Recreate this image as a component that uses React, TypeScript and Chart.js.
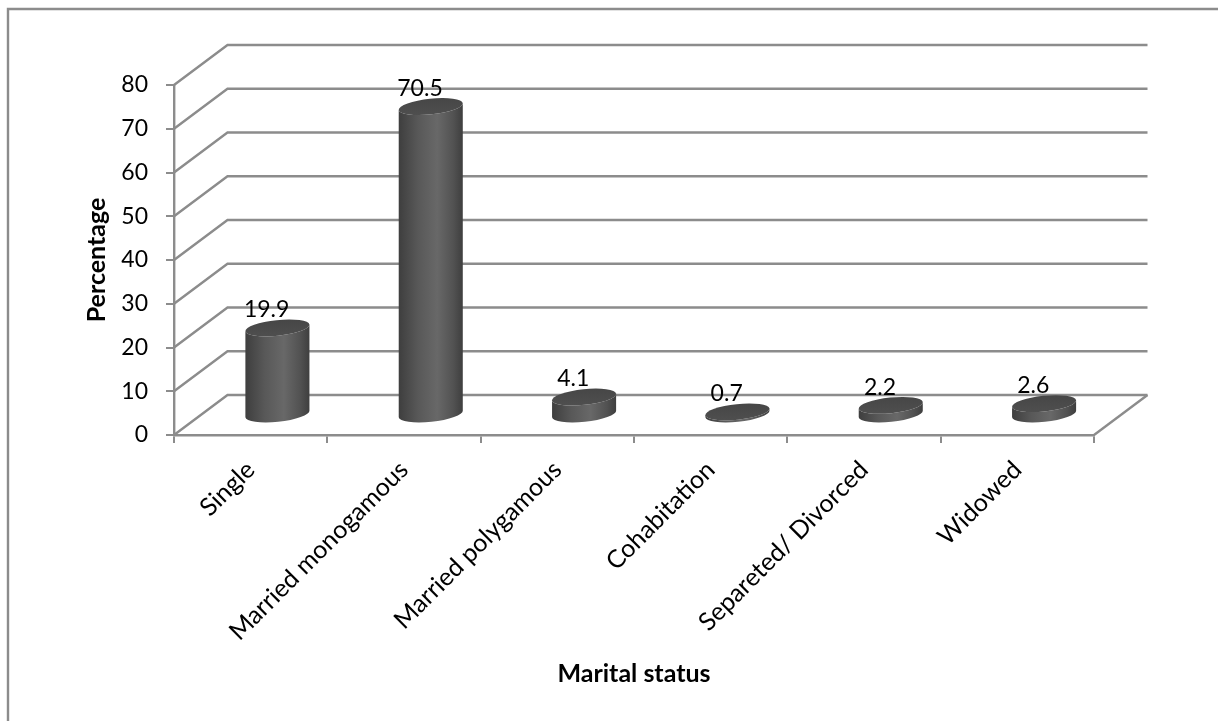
import { useEffect, useRef } from "react";
import { Chart, registerables, BarController, BarElement } from "chart.js";

const categories = [
  "Single",
  "Married monogamous",
  "Married polygamous",
  "Cohabitation",
  "Separeted/ Divorced",
  "Widowed",
];
const percentages = [19.9, 70.5, 4.1, 0.7, 2.2, 2.6];

const LINE = "#8c8c8c";
const FONT = "Lato, Carlito, Calibri, sans-serif";

// Oblique projection of the chart's depth axis, in pixels.
const DEPTH_X = 53.5;
const DEPTH_Y = 40;
const CAP_TILT = (-6 * Math.PI) / 180;
const CAP_RY = 7.8;

class CylinderBar extends BarElement {
  static id = "cylinderBar";
  static defaults = BarElement.defaults;

  draw(ctx: CanvasRenderingContext2D) {
    const { x, y, base, width } = this as any;
    const rx = width / 2;
    const cx = x + DEPTH_X / 2;
    const topY = y - DEPTH_Y / 2;
    const baseY = base - DEPTH_Y / 2;
    const sin = Math.sin(CAP_TILT) * rx;

    const side = ctx.createLinearGradient(cx - rx, 0, cx + rx, 0);
    side.addColorStop(0, "#3e3e3e");
    side.addColorStop(0.3, "#585858");
    side.addColorStop(0.6, "#686868");
    side.addColorStop(0.85, "#525252");
    side.addColorStop(1, "#3e3e3e");

    ctx.save();
    ctx.fillStyle = side;
    ctx.beginPath();
    ctx.ellipse(cx, baseY, rx, CAP_RY, CAP_TILT, 0, Math.PI);
    ctx.lineTo(cx - rx * Math.cos(CAP_TILT), topY - sin);
    ctx.ellipse(cx, topY, rx, CAP_RY, CAP_TILT, Math.PI, 0, true);
    ctx.closePath();
    ctx.fill();

    // The cap is shaded slightly lighter towards its front rim.
    const cap = ctx.createLinearGradient(0, topY - CAP_RY - 3, 0, topY + CAP_RY + 3);
    cap.addColorStop(0, "#454545");
    cap.addColorStop(1, "#505050");
    ctx.fillStyle = cap;
    ctx.beginPath();
    ctx.ellipse(cx, topY, rx, CAP_RY, CAP_TILT, 0, Math.PI * 2);
    ctx.fill();
    ctx.restore();
  }
}

class CylinderController extends BarController {
  static id = "cylinder";
  static defaults = { ...BarController.defaults, dataElementType: "cylinderBar" };
  static overrides = BarController.overrides;
}

Chart.register(...registerables, CylinderBar, CylinderController);

// Outer frame, side wall diagonals and back wall gridlines.
const walls = {
  id: "walls",
  beforeDatasetsDraw(chart: any) {
    const { ctx, chartArea, scales } = chart;
    const y = scales.y;
    ctx.save();
    ctx.strokeStyle = LINE;
    ctx.lineWidth = 2.4;

    ctx.beginPath();
    ctx.moveTo(8, 721);
    ctx.lineTo(8, 9);
    ctx.lineTo(1218, 9);
    ctx.stroke();

    y.ticks.forEach((t: any) => {
      const py = y.getPixelForValue(t.value);
      ctx.beginPath();
      ctx.moveTo(chartArea.left, py);
      ctx.lineTo(chartArea.left + DEPTH_X, py - DEPTH_Y);
      ctx.lineTo(chartArea.right + DEPTH_X, py - DEPTH_Y);
      ctx.stroke();
    });
    const floor = y.getPixelForValue(0);
    ctx.beginPath();
    ctx.moveTo(chartArea.right, floor);
    ctx.lineTo(chartArea.right + DEPTH_X, floor - DEPTH_Y);
    ctx.stroke();
    ctx.restore();
  },
};

// Value labels sit against the back wall, above each cylinder.
const valueLabels = {
  id: "valueLabels",
  afterDatasetsDraw(chart: any) {
    const { ctx } = chart;
    const meta = chart.getDatasetMeta(0);
    ctx.save();
    ctx.fillStyle = "#000";
    ctx.font = `23px ${FONT}`;
    ctx.textAlign = "center";
    ctx.textBaseline = "middle";
    meta.data.forEach((bar: any, i: number) => {
      ctx.fillText(String(percentages[i]), bar.x + 16, bar.y - 38);
    });
    ctx.restore();
  },
};

export default function App() {
  const ref = useRef<HTMLCanvasElement>(null);

  useEffect(() => {
    const chart = new Chart(ref.current!, {
      type: "cylinder" as any,
      data: {
        labels: categories,
        datasets: [
          {
            data: percentages,
            barPercentage: 0.42,
            categoryPercentage: 1,
          },
        ],
      },
      options: {
        animation: false,
        responsive: false,
        devicePixelRatio: 1,
        layout: { padding: { top: 85, right: 124, left: 0, bottom: 0 } },
        plugins: { legend: { display: false }, tooltip: { enabled: false } },
        scales: {
          x: {
            type: "category",
            afterFit(scale: any) {
              scale.height = 286;
            },
            grid: {
              offset: true,
              drawOnChartArea: false,
              color: LINE,
              lineWidth: 2,
              tickLength: 8,
            },
            border: { color: LINE, width: 2.4 },
            ticks: {
              color: "#000",
              font: { family: FONT, size: 25 },
              minRotation: 45,
              maxRotation: 45,
              padding: 12,
              labelOffset: 0,
              autoSkip: false,
            },
            title: {
              display: true,
              text: "Marital status",
              color: "#000",
              font: { family: FONT, size: 25, weight: "bold" },
              padding: { top: 0, bottom: 32 },
            },
          },
          y: {
            min: 0,
            max: 80,
            afterFit(scale: any) {
              scale.width = 174;
            },
            grid: {
              drawOnChartArea: false,
              color: LINE,
              lineWidth: 2,
              tickLength: 8,
            },
            border: { color: LINE, width: 2.4 },
            ticks: {
              stepSize: 10,
              color: "#000",
              font: { family: FONT, size: 23 },
              padding: 18,
            },
            title: {
              display: true,
              text: "Percentage",
              color: "#000",
              font: { family: FONT, size: 25, weight: "bold" },
              padding: { top: 82, bottom: 0 },
            },
          },
        },
      } as any,
      plugins: [walls, valueLabels],
    });
    return () => chart.destroy();
  }, []);

  return (
    <canvas
      ref={ref}
      width={1218}
      height={721}
      style={{ position: "absolute", left: 0, top: 0, display: "block" }}
    />
  );
}
